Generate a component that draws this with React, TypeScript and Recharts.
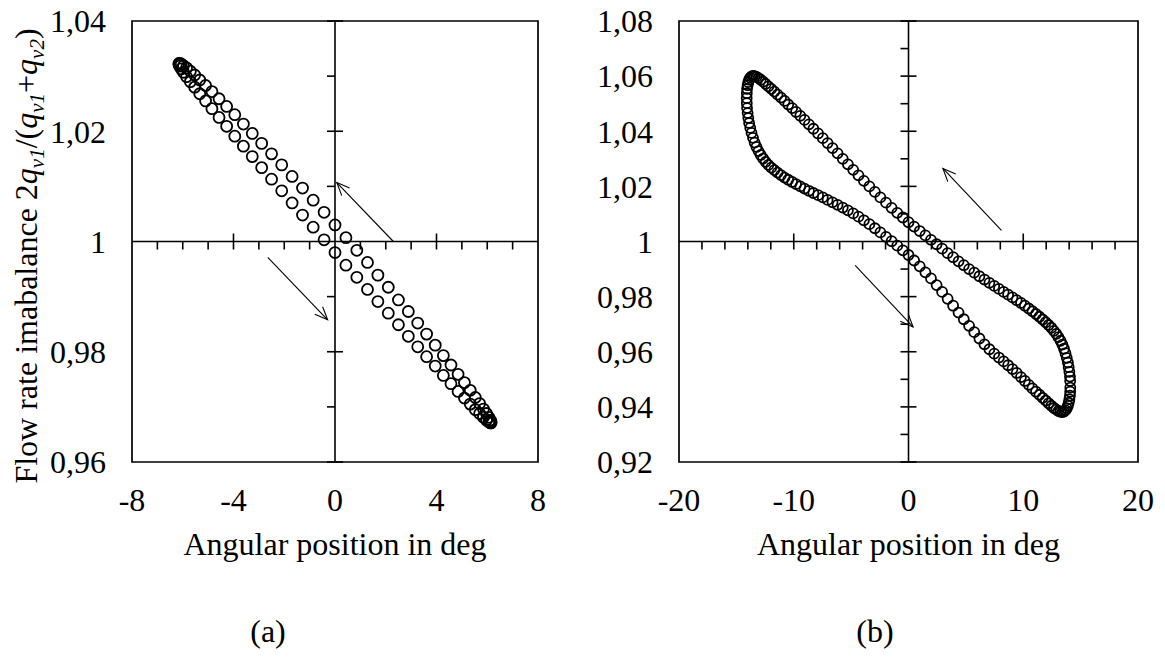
import React from "react";
import {
  ScatterChart,
  Scatter,
  XAxis,
  YAxis,
  ReferenceArea,
  ReferenceLine,
  ReferenceDot,
} from "recharts";

// ---- panel (a) ----
const leftX = [
  -6.15, -6.12, -6.06, -5.97, -5.85, -5.7, -5.53, -5.33, -5.1, -4.85, -4.57, -4.27, -3.95, -3.61, -3.26,
  -2.89, -2.5, -2.1, -1.69, -1.28, -0.86, -0.43, 0, 0.43, 0.86, 1.28, 1.69, 2.1, 2.5, 2.89, 3.26, 3.61,
  3.95, 4.27, 4.57, 4.85, 5.1, 5.33, 5.53, 5.7, 5.85, 5.97, 6.06, 6.12, 6.15,
];
const leftLowerY = [
  1.0321, 1.0318, 1.0313, 1.0307, 1.0299, 1.029, 1.028, 1.0268, 1.0255, 1.0241, 1.0225, 1.0209, 1.0191,
  1.0173, 1.0154, 1.0134, 1.0113, 1.0092, 1.007, 1.0048, 1.0026, 1.0003, 0.998, 0.9957, 0.9935, 0.9913,
  0.9891, 0.987, 0.9849, 0.9828, 0.9809, 0.9791, 0.9774, 0.9757, 0.9742, 0.9728, 0.9716, 0.9705, 0.9695,
  0.9688, 0.9681, 0.9676, 0.9673, 0.9671, 0.9671,
];
const leftUpperY = [
  1.0323, 1.0323, 1.0322, 1.0319, 1.0315, 1.0309, 1.0302, 1.0293, 1.0283, 1.0272, 1.0259, 1.0245, 1.023,
  1.0213, 1.0196, 1.0178, 1.0159, 1.0139, 1.0118, 1.0097, 1.0075, 1.0053, 1.003, 1.0007, 0.9984, 0.9962,
  0.9939, 0.9917, 0.9894, 0.9873, 0.9852, 0.9832, 0.9812, 0.9793, 0.9776, 0.9759, 0.9744, 0.973, 0.9717,
  0.9706, 0.9696, 0.9688, 0.9681, 0.9676, 0.9673,
];
const leftXTicks = [-8, -4, 0, 4, 8];
const leftYTicks = [0.96, 0.98, 1, 1.02, 1.04];
const leftXMinor = [-7, -6, -5, -3, -2, -1, 1, 2, 3, 5, 6, 7];
const leftXMajor = [-4, 4];
const leftYMinor = [0.97, 0.99, 1.01, 1.03];
const leftYMajor = [0.96, 0.98, 1.02, 1.04];
const leftArrows = [
  { x1: 2.3, y1: 1.0, x2: 0.07, y2: 1.0107 },
  { x1: -2.65, y1: 0.9971, x2: -0.29, y2: 0.9858 },
];

// ---- panel (b) ----
const rightX = [
  -14.1, -14.09, -14.07, -14.02, -13.96, -13.89, -13.79, -13.68, -13.55, -13.41, -13.25, -13.07, -12.88,
  -12.67, -12.45, -12.21, -11.96, -11.69, -11.41, -11.11, -10.8, -10.48, -10.14, -9.8, -9.43, -9.06, -8.68,
  -8.29, -7.88, -7.47, -7.05, -6.62, -6.18, -5.73, -5.28, -4.82, -4.36, -3.89, -3.41, -2.93, -2.45, -1.96,
  -1.47, -0.98, -0.49, 0, 0.49, 0.98, 1.47, 1.96, 2.45, 2.93, 3.41, 3.89, 4.36, 4.82, 5.28, 5.73, 6.18,
  6.62, 7.05, 7.47, 7.88, 8.29, 8.68, 9.06, 9.43, 9.8, 10.14, 10.48, 10.8, 11.11, 11.41, 11.69, 11.96, 12.21,
  12.45, 12.67, 12.88, 13.07, 13.25, 13.41, 13.55, 13.68, 13.79, 13.89, 13.96, 14.02, 14.07, 14.09, 14.1,
];
const rightLowerY = [
  1.052, 1.0502, 1.0484, 1.0466, 1.0448, 1.043, 1.0412, 1.0394, 1.0376, 1.0359, 1.0343, 1.0328, 1.0314,
  1.0301, 1.0289, 1.0278, 1.0268, 1.0259, 1.025, 1.0241, 1.0232, 1.0224, 1.0216, 1.0208, 1.02, 1.0192,
  1.0184, 1.0176, 1.0168, 1.016, 1.0151, 1.0142, 1.0133, 1.0123, 1.0113, 1.0102, 1.009, 1.0077, 1.0063,
  1.0048, 1.0033, 1.0017, 1.0001, 0.9985, 0.9968, 0.9951, 0.9931, 0.991, 0.9888, 0.9866, 0.9842, 0.9817,
  0.9792, 0.9767, 0.9742, 0.9718, 0.9694, 0.9671, 0.9648, 0.9627, 0.9609, 0.9593, 0.9579, 0.9565, 0.9551,
  0.9537, 0.9523, 0.9508, 0.9494, 0.948, 0.9467, 0.9455, 0.9444, 0.9433, 0.9423, 0.9413, 0.9404, 0.9396,
  0.939, 0.9385, 0.9382, 0.9381, 0.9383, 0.9388, 0.9395, 0.9404, 0.9415, 0.9428, 0.9441, 0.9455, 0.947,
];
// upper branch, matched with rightX[1..89]
const rightUpperY = [
  1.0538, 1.0554, 1.0567, 1.0578, 1.0587, 1.0594, 1.0599, 1.0601, 1.06, 1.0597, 1.0593, 1.0587, 1.058,
  1.0572, 1.0563, 1.0554, 1.0544, 1.0533, 1.0522, 1.051, 1.0497, 1.0484, 1.047, 1.0456, 1.0441, 1.0425,
  1.0409, 1.0392, 1.0375, 1.0357, 1.0339, 1.032, 1.03, 1.028, 1.026, 1.024, 1.022, 1.02, 1.018, 1.016,
  1.0141, 1.0122, 1.0104, 1.0087, 1.007, 1.0054, 1.0038, 1.0022, 1.0006, 0.999, 0.9974, 0.9958, 0.9943,
  0.9928, 0.9914, 0.99, 0.9887, 0.9874, 0.9862, 0.985, 0.9839, 0.9828, 0.9817, 0.9807, 0.9797, 0.9787,
  0.9777, 0.9767, 0.9757, 0.9747, 0.9737, 0.9727, 0.9717, 0.9707, 0.9697, 0.9687, 0.9676, 0.9665, 0.9653,
  0.964, 0.9626, 0.9611, 0.9595, 0.9578, 0.9561, 0.9544, 0.9527, 0.951, 0.9494,
];
const rightXTicks = [-20, -10, 0, 10, 20];
const rightYTicks = [0.92, 0.94, 0.96, 0.98, 1, 1.02, 1.04, 1.06, 1.08];
const rightXMinor = [-18, -16, -14, -12, -8, -6, -4, -2, 2, 4, 6, 8, 12, 14, 16, 18];
const rightXMajor = [-10, 10];
const rightYMinor = [0.93, 0.95, 0.97, 0.99, 1.01, 1.03, 1.05, 1.07];
const rightYMajor = [0.92, 0.94, 0.96, 0.98, 1.02, 1.04, 1.06, 1.08];
const rightArrows = [
  { x1: 8.1, y1: 1.004, x2: 3.0, y2: 1.0265 },
  { x1: -4.65, y1: 0.9913, x2: 0.4, y2: 0.969 },
];

const FONT = "Liberation Serif";
const FS = 32;

const fmt = (v: number) => (v === 1 ? "1" : v.toFixed(2).replace(".", ","));

const Circle = (r: number) => (p: any) =>
  <circle cx={p.cx} cy={p.cy} r={r} fill="none" stroke="#000" strokeWidth={1.8} />;

const vTick = (up: number, down: number) => (p: any) =>
  <line x1={p.cx} x2={p.cx} y1={p.cy - up} y2={p.cy + down} stroke="#000" strokeWidth={1.6} />;
const hTick = (left: number, right: number) => (p: any) =>
  <line x1={p.cx - left} x2={p.cx + right} y1={p.cy} y2={p.cy} stroke="#000" strokeWidth={1.6} />;

const Arrow = (p: any) => {
  const { x1, y1, x2, y2 } = p;
  const a = Math.atan2(y2 - y1, x2 - x1);
  const L = 14;
  const s = 0.4;
  const b1 = [x2 - L * Math.cos(a - s), y2 - L * Math.sin(a - s)];
  const b2 = [x2 - L * Math.cos(a + s), y2 - L * Math.sin(a + s)];
  return (
    <g stroke="#000" strokeWidth={1.1} fill="none">
      <line x1={x1} y1={y1} x2={x2} y2={y2} />
      <polyline points={`${b1[0]},${b1[1]} ${x2},${y2} ${b2[0]},${b2[1]}`} />
    </g>
  );
};

type Pt = { x: number; y: number };

interface PanelProps {
  width: number;
  yAxisWidth: number;
  right: number;
  xDomain: [number, number];
  yDomain: [number, number];
  xTicks: number[];
  yTicks: number[];
  xMajor: number[];
  xMinor: number[];
  yMajor: number[];
  yMinor: number[];
  series: Pt[][];
  arrows: { x1: number; y1: number; x2: number; y2: number }[];
  r: number;
}

function Panel(p: PanelProps) {
  const tick = { fontSize: FS, fontFamily: FONT, fill: "#000" };
  return (
    <ScatterChart width={p.width} height={657} margin={{ top: 21, right: p.right, bottom: 135, left: 0 }}>
      <XAxis
        type="number"
        dataKey="x"
        domain={p.xDomain}
        ticks={p.xTicks}
        allowDataOverflow
        axisLine={false}
        tickLine={false}
        tickSize={0}
        tickMargin={26}
        height={60}
        tick={tick}
        interval={0}
      />
      <YAxis
        type="number"
        dataKey="y"
        domain={p.yDomain}
        ticks={p.yTicks}
        allowDataOverflow
        axisLine={false}
        tickLine={false}
        tickSize={0}
        tickMargin={26}
        width={p.yAxisWidth}
        tick={tick}
        tickFormatter={fmt}
        interval={0}
      />
      <ReferenceArea
        x1={p.xDomain[0]}
        x2={p.xDomain[1]}
        y1={p.yDomain[0]}
        y2={p.yDomain[1]}
        fill="none"
        fillOpacity={0}
        stroke="#000"
        strokeWidth={1.7}
      />
      <ReferenceLine x={0} stroke="#000" strokeWidth={1.6} />
      <ReferenceLine y={1} stroke="#000" strokeWidth={1.6} />
      {p.xMajor.map((v) => (
        <ReferenceDot key={"xM" + v} x={v} y={1} r={0} shape={vTick(8, 8)} />
      ))}
      {p.xMinor.map((v) => (
        <ReferenceDot key={"xm" + v} x={v} y={1} r={0} shape={vTick(0, 8)} />
      ))}
      {p.yMajor.map((v) => (
        <ReferenceDot key={"yM" + v} x={0} y={v} r={0} shape={hTick(8, 8)} />
      ))}
      {p.yMinor.map((v) => (
        <ReferenceDot key={"ym" + v} x={0} y={v} r={0} shape={hTick(8, 0)} />
      ))}
      {p.arrows.map((a, i) => (
        <ReferenceLine
          key={"arr" + i}
          segment={[
            { x: a.x1, y: a.y1 },
            { x: a.x2, y: a.y2 },
          ]}
          shape={Arrow}
        />
      ))}
      {p.series.map((s, i) => (
        <Scatter key={i} data={s} shape={Circle(p.r)} isAnimationActive={false} />
      ))}
    </ScatterChart>
  );
}

const leftLower = leftX.map((x, i) => ({ x, y: leftLowerY[i] }));
const leftUpper = leftX.map((x, i) => ({ x, y: leftUpperY[i] }));
const rightLower = rightX.map((x, i) => ({ x, y: rightLowerY[i] }));
const rightUpper = rightUpperY.map((y, i) => ({ x: rightX[i + 1], y }));

export default function App() {
  const sub = { fontSize: 21, fontStyle: "italic" as const };
  return (
    <div style={{ position: "absolute", left: 0, top: 0, width: 1165, height: 657, background: "#fff" }}>
      <div style={{ position: "absolute", left: 0, top: 0 }}>
        <Panel
          width={580}
          yAxisWidth={132}
          right={42}
          xDomain={[-8, 8]}
          yDomain={[0.96, 1.04]}
          xTicks={leftXTicks}
          yTicks={leftYTicks}
          xMajor={leftXMajor}
          xMinor={leftXMinor}
          yMajor={leftYMajor}
          yMinor={leftYMinor}
          series={[leftLower, leftUpper]}
          arrows={leftArrows}
          r={5.5}
        />
      </div>
      <div style={{ position: "absolute", left: 580, top: 0 }}>
        <Panel
          width={585}
          yAxisWidth={99}
          right={27}
          xDomain={[-20, 20]}
          yDomain={[0.92, 1.08]}
          xTicks={rightXTicks}
          yTicks={rightYTicks}
          xMajor={rightXMajor}
          xMinor={rightXMinor}
          yMajor={rightYMajor}
          yMinor={rightYMinor}
          series={[rightLower, rightUpper]}
          arrows={rightArrows}
          r={5.0}
        />
      </div>
      <svg
        width={1165}
        height={657}
        style={{ position: "absolute", left: 0, top: 0, pointerEvents: "none", fontFamily: FONT }}
        fontSize={FS}
        fill="#000"
      >
        <text transform="translate(37,256) rotate(-90)" textAnchor="middle">
          Flow rate imabalance 2<tspan fontStyle="italic">q</tspan>
          <tspan {...sub} dy={7}>v1</tspan>
          <tspan dy={-7}>/(</tspan>
          <tspan fontStyle="italic">q</tspan>
          <tspan {...sub} dy={7}>v1</tspan>
          <tspan dy={-7}>+</tspan>
          <tspan fontStyle="italic">q</tspan>
          <tspan {...sub} dy={7}>v2</tspan>
          <tspan dy={-7}>)</tspan>
        </text>
        <text x={335} y={555} textAnchor="middle">Angular position in deg</text>
        <text x={908.5} y={555} textAnchor="middle">Angular position in deg</text>
        <text x={268} y={642} textAnchor="middle">(a)</text>
        <text x={875} y={642} textAnchor="middle">(b)</text>
      </svg>
    </div>
  );
}
